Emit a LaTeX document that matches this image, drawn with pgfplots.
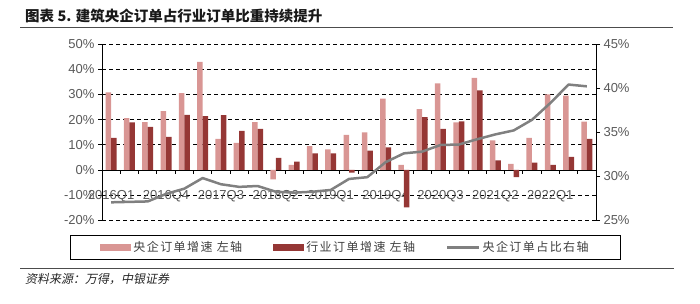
\documentclass[border=0pt]{standalone}
\usepackage{pgfplots}
\pgfplotsset{compat=1.18}
\usepackage{pgfplotstable}
\usepackage{fontspec}
\setmainfont{Liberation Sans}
\newfontfamily\cjk{Noto Sans CJK SC}
\newfontfamily\cjkleg[LetterSpace=12]{Noto Sans CJK SC}
\newfontfamily\cjksl[FakeSlant=0.2]{Noto Sans CJK SC}
\definecolor{lightbar}{HTML}{D99694}
\definecolor{darkbar}{HTML}{953735}
\definecolor{linegray}{HTML}{808080}
\definecolor{ticktext}{HTML}{595959}
\definecolor{legtext}{HTML}{404040}

\pgfplotstableread{
x cy hy share
0 30.8 12.7 27.05
1 20.6 18.9 27.1
2 19.0 17.1 27.15
3 23.4 13.1 28.0
4 30.5 21.9 28.6
5 42.9 21.4 29.8
6 12.3 21.8 29.1
7 10.8 15.5 28.8
8 19.0 16.3 28.9
9 -3.7 4.8 28.25
10 2.0 3.3 28.15
11 9.5 6.6 28.25
12 8.2 6.6 28.45
13 13.9 -1.0 29.7
14 14.9 7.7 29.9
15 28.3 9.0 31.6
16 2.0 -14.8 32.6
17 24.2 21.0 32.8
18 34.4 16.3 33.55
19 18.9 19.3 33.6
20 36.6 31.6 34.2
21 11.8 3.8 34.75
22 2.4 -2.8 35.2
23 12.7 2.9 36.4
24 30.0 2.0 38.3
25 29.5 5.2 40.4
26 19.2 12.3 40.2
}\datatable

\begin{document}
\begin{tikzpicture}[x=1pt,y=1pt]
\path (0,0) rectangle (700,304);
\node[anchor=west, inner sep=0, font=\fontsize{14.5}{16}\selectfont\cjk\bfseries, text=black!90] at (25,288.3) {图表 5. 建筑央企订单占行业订单比重持续提升};
\draw[line width=1.3pt, color=black!70] (20,276.5) -- (673,276.5);
\draw[line width=1.3pt, color=black!70] (20,35.7) -- (674,35.7);
\node[anchor=west, inner sep=0, font=\fontsize{12}{14}\selectfont\cjksl, text=black!85] at (25,25) {资料来源：万得，中银证券};

\begin{axis}[
  at={(102pt,83.6pt)}, anchor=south west,
  width=494pt, height=176.4pt, scale only axis,
  xmin=-0.5, xmax=26.5, ymin=-20, ymax=50,
  axis x line*=middle, axis y line*=left,
  ytick={-20,-10,...,50},
  yticklabels={-20\%,-10\%,0\%,10\%,20\%,30\%,40\%,50\%},
  ymajorgrids,
  major grid style={black, line width=0.8pt, dash pattern=on 4pt off 3pt},
  xtick={0,3,...,24},
  xticklabels={2016Q1,2016Q4,2017Q3,2018Q2,2019Q1,2019Q4,2020Q3,2021Q2,2022Q1},
  minor xtick={-0.5,0.5,...,26.5},
  major x tick style={draw=none},
  minor x tick style={black, line width=0.8pt},
  minor tick length=4pt, major tick length=4pt,
  tick align=outside,
  axis line style={black, line width=0.8pt},
  tick style={black, line width=0.8pt},
  ticklabel style={font=\fontsize{13}{15}\selectfont, text=ticktext},
  xticklabel style={yshift=-13pt},
  ybar=0pt, bar width=5.5pt,
]
\addplot[fill=lightbar, draw=none] table[x=x,y=cy]{\datatable};
\addplot[fill=darkbar, draw=none] table[x=x,y=hy]{\datatable};
\end{axis}

\begin{axis}[
  at={(102pt,83.6pt)}, anchor=south west,
  width=494pt, height=176.4pt, scale only axis,
  xmin=-0.5, xmax=26.5, ymin=25, ymax=45,
  axis x line=none, axis y line*=right,
  ytick={25,30,...,45},
  yticklabels={25\%,30\%,35\%,40\%,45\%},
  tick align=outside, major tick length=4pt,
  axis line style={black, line width=0.8pt},
  tick style={black, line width=0.8pt},
  ticklabel style={font=\fontsize{13}{15}\selectfont, text=ticktext},
  legend columns=3,
  legend style={at={(0.4929,-0.1536)}, anchor=center, draw=black, line width=1.1pt,
    font=\fontsize{12}{14}\selectfont\cjkleg, text=legtext,
    inner xsep=30pt, inner ysep=4.5pt,
    /tikz/every even column/.append style={column sep=29pt}},
]
\addlegendimage{legend image code/.code={\fill[lightbar] (0pt,-3.35pt) rectangle (30pt,3.35pt);}}
\addlegendentry{央企订单增速 左轴}
\addlegendimage{legend image code/.code={\fill[darkbar] (0pt,-3.35pt) rectangle (30pt,3.35pt);}}
\addlegendentry{行业订单增速 左轴}
\addplot[linegray, line width=2.5pt, line join=round,
  legend image code/.code={\draw[linegray, line width=2.5pt] (0pt,0pt) -- (32pt,0pt);}]
  table[x=x,y=share]{\datatable};
\addlegendentry{央企订单占比右轴}
\end{axis}
\end{tikzpicture}
\end{document}
